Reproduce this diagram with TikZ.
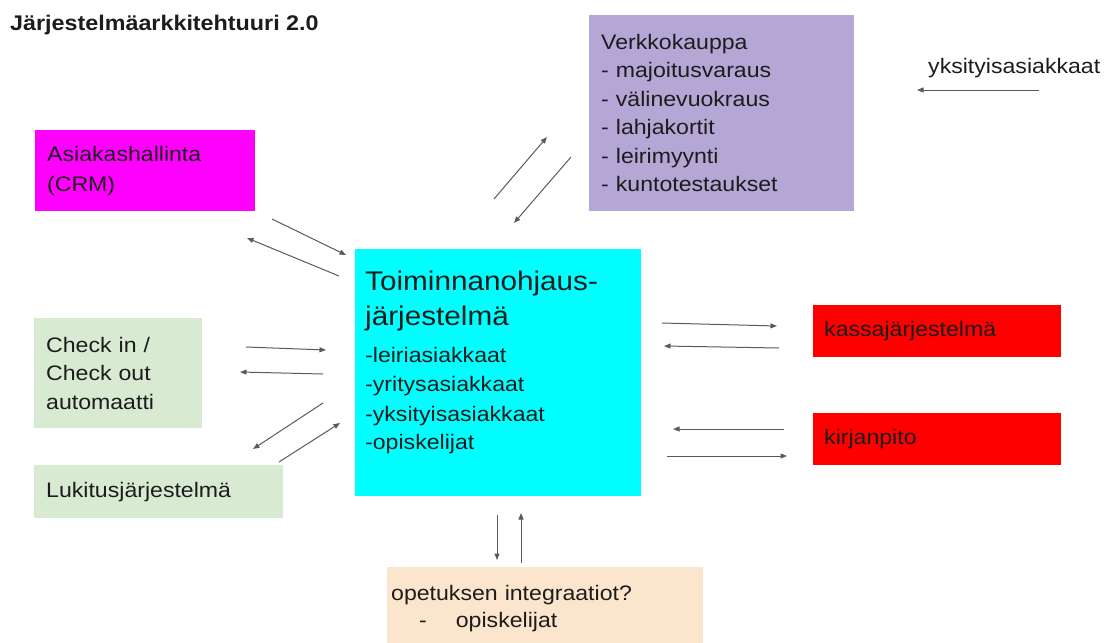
\documentclass[tikz,border=0pt]{standalone}
\usepackage{fontspec}
\setmainfont{Liberation Sans}[FakeStretch=1.1]
\usetikzlibrary{arrows.meta}

\definecolor{crmpink}{HTML}{FF00FF}
\definecolor{shoplilac}{HTML}{B4A7D6}
\definecolor{erpcyan}{HTML}{00FFFF}
\definecolor{sidegreen}{HTML}{D9EAD3}
\definecolor{moneyred}{HTML}{FF0000}
\definecolor{studypeach}{HTML}{FCE5CD}
\definecolor{inkdark}{HTML}{1C1C1C}
\definecolor{flowgray}{HTML}{5A5A5A}

\newcommand{\bigtxt}{\fontsize{27}{35}\selectfont}
\newcommand{\smalltxt}{\fontsize{21}{28.5}\selectfont}

\begin{document}
\begin{tikzpicture}[x=1pt, y=-1pt,
  box/.style={rectangle, anchor=north west, inner xsep=12pt, inner ysep=0pt, align=left, text=inkdark, font=\smalltxt},
  flow/.style={-{Triangle[length=6.5pt, width=5pt]}, line width=1pt, draw=flowgray}]
  \useasboundingbox (0,0) rectangle (1112,643);

  % Title
  \node (title) at (10,30) [anchor=base west, inner sep=0pt, text=inkdark, font=\fontsize{21.2}{24}\selectfont\bfseries] {Järjestelmäarkkitehtuuri 2.0};

  % Systems
  \node (crm) at (35,130) [box, fill=crmpink, text width=196pt, minimum height=81pt] {Asiakashallinta\\[1.5pt](CRM)};
  \node (shop) at (589,15) [box, fill=shoplilac, text width=241pt, minimum height=196pt] {Verkkokauppa\\- majoitusvaraus\\- välinevuokraus\\- lahjakortit\\- leirimyynti\\- kuntotestaukset};
  \node (checkin) at (34,318) [box, fill=sidegreen, text width=144pt, minimum height=110pt] {Check in /\\Check out\\automaatti};
  \node (lock) at (34,465) [box, fill=sidegreen, text width=225pt, minimum height=53pt] {Lukitusjärjestelmä};
  \node (erp) at (355,249) [box, fill=erpcyan, inner xsep=10pt, inner ysep=22pt, text width=266pt, text height=19.3pt, text depth=183.7pt]
    {{\bigtxt Toiminnanohjaus-}\\[6.5pt]{\bigtxt järjestelmä}\\[8.5pt]-leiriasiakkaat\\-yritysasiakkaat\\[1.5pt]-yksityisasiakkaat\\-opiskelijat};
  \node (till) at (813,305) [box, fill=moneyred, inner xsep=11pt, text width=226pt, minimum height=52pt] {kassajärjestelmä};
  \node (books) at (813,413) [box, fill=moneyred, inner xsep=11pt, text width=226pt, minimum height=52pt] {kirjanpito};
  \node (study) at (387,567) [box, fill=studypeach, inner xsep=4pt, text width=308pt, minimum height=83pt] {opetuksen integraatiot?\\[-1.5pt]\hspace*{28pt}-\hspace{29pt}opiskelijat};
  \node (private) at (928,73) [anchor=base west, inner sep=0pt, text=inkdark, font=\smalltxt] {yksityisasiakkaat};

  % Arrow ends
  \foreach \name/\px/\py in {crmA/272/219, crmB/346/255, crmC/339/276, crmD/247/238,
      shopA/494/199, shopB/547/137, shopC/571/157, shopD/514/223,
      privA/1039/90, privB/917/90,
      chkA/246/347, chkB/326/350, chkC/323/374, chkD/240/372,
      lockA/323/403, lockB/253/449, lockC/279/462, lockD/340/423,
      tillA/662/323, tillB/777/326, tillC/779/348, tillD/664/346,
      bookA/784/429, bookB/673/429, bookC/667/456, bookD/787/456,
      studyA/497/515, studyB/497/560, studyC/521/563, studyD/521/513}
    \coordinate (\name) at (\px,\py);

  % Data flows
  \draw[flow] (crmA) -- (crmB);
  \draw[flow] (crmC) -- (crmD);
  \draw[flow] (shopA) -- (shopB);
  \draw[flow] (shopC) -- (shopD);
  \draw[flow] (privA) -- (privB);
  \draw[flow] (chkA) -- (chkB);
  \draw[flow] (chkC) -- (chkD);
  \draw[flow] (lockA) -- (lockB);
  \draw[flow] (lockC) -- (lockD);
  \draw[flow] (tillA) -- (tillB);
  \draw[flow] (tillC) -- (tillD);
  \draw[flow] (bookA) -- (bookB);
  \draw[flow] (bookC) -- (bookD);
  \draw[flow] (studyA) -- (studyB);
  \draw[flow] (studyC) -- (studyD);
\end{tikzpicture}
\end{document}
